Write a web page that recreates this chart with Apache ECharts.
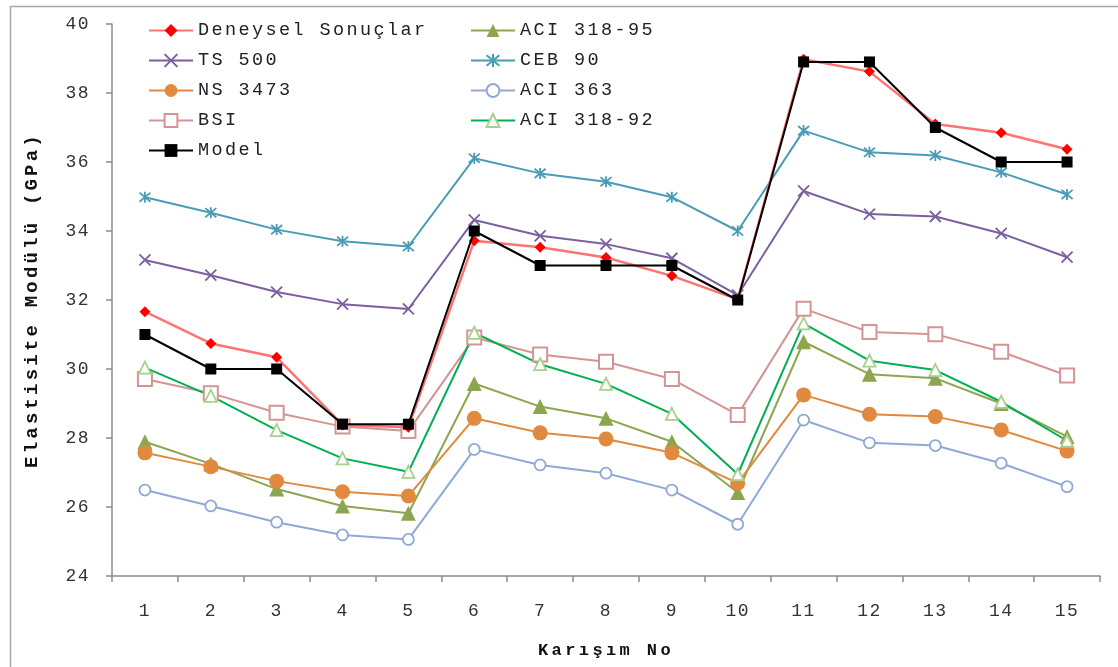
<!DOCTYPE html>
<html>
<head>
<meta charset="utf-8">
<script src="https://cdn.jsdelivr.net/npm/echarts@6/dist/echarts.min.js"></script>
<style>
html,body{margin:0;padding:0;background:#fff;}
#c{width:1118px;height:667px;}
</style>
</head>
<body>
<div id="c"></div>
<script>
const categories = ['1','2','3','4','5','6','7','8','9','10','11','12','13','14','15'];
const deneysel = [31.66,30.74,30.34,28.38,28.31,33.72,33.53,33.23,32.70,32.02,38.98,38.62,37.10,36.85,36.37];
const aci31895 = [27.89,27.25,26.52,26.03,25.82,29.58,28.91,28.57,27.89,26.42,30.79,29.85,29.73,29.00,28.04];
const ts500 = [33.16,32.72,32.23,31.88,31.74,34.32,33.86,33.62,33.21,32.14,35.16,34.49,34.42,33.93,33.24];
const ceb90 = [34.98,34.53,34.04,33.70,33.55,36.11,35.67,35.43,34.98,34.00,36.91,36.28,36.19,35.70,35.06];
const ns3473 = [27.57,27.17,26.75,26.44,26.32,28.57,28.15,27.97,27.57,26.69,29.25,28.69,28.62,28.23,27.62];
const aci363 = [26.49,26.03,25.56,25.19,25.06,27.67,27.22,26.98,26.49,25.50,28.52,27.86,27.78,27.27,26.59];
const bsi = [29.71,29.30,28.73,28.33,28.20,30.91,30.42,30.21,29.71,28.67,31.75,31.07,31.01,30.50,29.81];
const aci31892 = [30.04,29.22,28.23,27.41,27.02,31.05,30.14,29.57,28.70,26.95,31.32,30.24,29.97,29.05,27.92];
const model = [31.0,30.0,30.0,28.4,28.4,34.0,33.0,33.0,33.0,32.0,38.9,38.9,37.0,36.0,36.0];
const yTicks = {min:24, max:40, interval:2};
const xTitle = 'Karışım No';
const yTitle = 'Elastisite Modülü (GPa)';

// wide character spacing like the original Courier-style text
(function(){
  const P = CanvasRenderingContext2D.prototype;
  const map = {'17':'3.4px','18':'1.5px','18.5':'2.4px','19':'3.2px'};
  ['fillText','strokeText'].forEach(function(fn){
    const o = P[fn];
    P[fn] = function(){
      const m = /([\d.]+)px/.exec(this.font || '');
      const ls = m && map[m[1]];
      if ('letterSpacing' in this) this.letterSpacing = ls || '0px';
      return o.apply(this, arguments);
    };
  });
})();

const FONT = 'Liberation Mono';
const chart = echarts.init(document.getElementById('c'), null, {renderer:'canvas'});

function mk(name, data, lineColor, symbol, size, itemStyle, lw, z) {
  return {
    name: name, type: 'line', data: data, symbol: symbol, symbolSize: size,
    showSymbol: true, animation: false, z: z || 2,
    lineStyle: {color: lineColor, width: lw || 2},
    itemStyle: itemStyle, emphasis: {disabled: true}
  };
}
const xPath = 'path://M0,0L10,10M10,0L0,10';
const starPath = 'path://M0,0L10,10M10,0L0,10M5,-1L5,11';

const series = [
  mk('Deneysel Sonuçlar', deneysel, '#ff7373', 'diamond', 11, {color:'#ff0000'}, 2.5, 3),
  mk('ACI 318-95', aci31895, '#8ba64f', 'triangle', 15, {color:'#8ba64f'}, 2),
  mk('TS 500', ts500, '#7b5f9f', xPath, 11, {color:'transparent', borderColor:'#7b5f9f', borderWidth:1.8}, 2),
  mk('CEB 90', ceb90, '#4a9cb6', starPath, 11, {color:'transparent', borderColor:'#4a9cb6', borderWidth:1.8}, 2),
  mk('NS 3473', ns3473, '#e0893f', 'circle', 15, {color:'#e0893f'}, 2),
  mk('ACI 363', aci363, '#8fa9d6', 'circle', 11, {color:'#ffffff', borderColor:'#8fa9d6', borderWidth:1.8}, 2),
  mk('BSI', bsi, '#d49494', 'rect', 14, {color:'#ffffff', borderColor:'#d49494', borderWidth:2}, 2),
  mk('ACI 318-92', aci31892, '#00b050', 'triangle', 12, {color:'#ffffff', borderColor:'#a8d08d', borderWidth:1.8}, 2),
  mk('Model', model, '#000000', 'rect', 11, {color:'#000000'}, 2, 4)
];

const legendCommon = {
  orient: 'vertical', itemWidth: 44, itemHeight: 16, itemGap: 11, padding: 0,
  textStyle: {fontFamily: FONT, fontSize: 18.5, color: '#222'},
  selectedMode: false
};

chart.setOption({
  backgroundColor: '#ffffff',
  animation: false,
  graphic: [{
    type: 'rect', left: 8, top: 4, z: -10, silent: true,
    shape: {x: 0, y: 0, width: 1109, height: 662},
    style: {fill: 'none', stroke: '#a6a6a6', lineWidth: 1.5}
  }],
  legend: [
    Object.assign({}, legendCommon, {left: 148, top: 21,
      data: ['Deneysel Sonuçlar','TS 500','NS 3473','BSI','Model']}),
    Object.assign({}, legendCommon, {left: 470, top: 21,
      data: ['ACI 318-95','CEB 90','ACI 363','ACI 318-92']})
  ],
  grid: {left: 112, right: 18, top: 24, bottom: 91, containLabel: false},
  xAxis: {
    type: 'category', data: categories, boundaryGap: true,
    name: xTitle, nameLocation: 'middle', nameGap: 66,
    nameTextStyle: {fontFamily: FONT, fontSize: 17, fontWeight: 'bold', color: '#111'},
    axisLine: {show: true, lineStyle: {color: '#8c8c8c', width: 1.5}},
    axisTick: {show: true, length: 6, alignWithLabel: false, lineStyle: {color: '#8c8c8c', width: 1.5}},
    axisLabel: {fontFamily: FONT, fontSize: 18, color: '#333', margin: 26},
    splitLine: {show: false}
  },
  yAxis: {
    type: 'value', min: yTicks.min, max: yTicks.max, interval: yTicks.interval,
    name: yTitle, nameLocation: 'middle', nameGap: 70,
    nameTextStyle: {fontFamily: FONT, fontSize: 19, fontWeight: 'bold', color: '#111'},
    axisLine: {show: true, lineStyle: {color: '#8c8c8c', width: 1.5}},
    axisTick: {show: true, length: 6, inside: false, lineStyle: {color: '#8c8c8c', width: 1.5}},
    axisLabel: {fontFamily: FONT, fontSize: 18, color: '#333', margin: 22},
    splitLine: {show: false}
  },
  series: series
});
</script>
</body>
</html>
